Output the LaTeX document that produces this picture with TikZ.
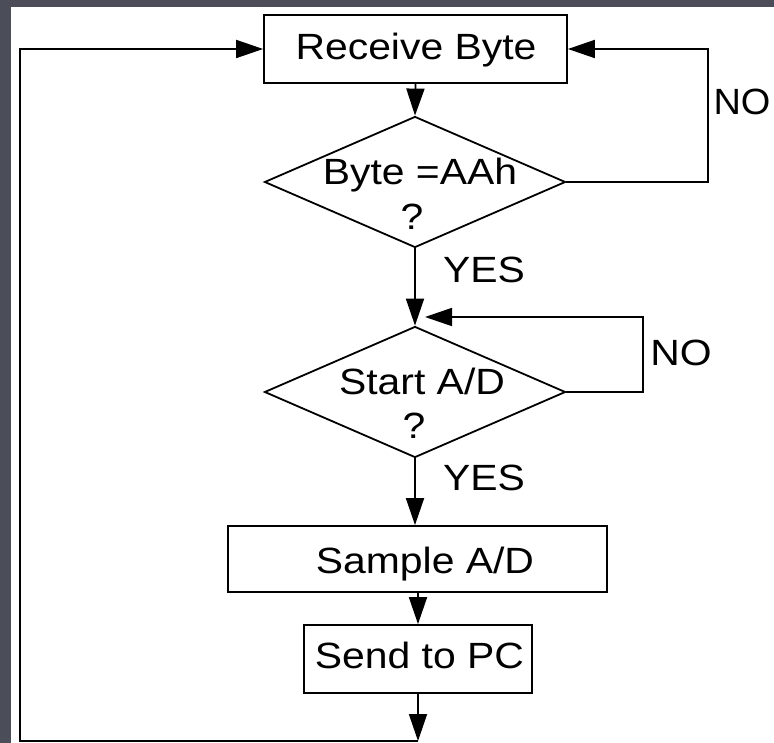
\documentclass[tikz,border=0pt]{standalone}
\usepackage{fontspec}
\setmainfont{Liberation Sans}
\usetikzlibrary{shapes.geometric,arrows.meta}
\newcommand\stretchtxt[1]{\scalebox{1.12}[1]{#1}}
\definecolor{frame}{HTML}{4B4D58}
\begin{document}
\begin{tikzpicture}[x=1pt,y=-1pt,
  line width=1.8pt,
  box/.style={draw,rectangle,inner sep=0pt},
  dec/.style={draw,diamond,inner sep=0pt,minimum width=301pt,minimum height=131pt},
  txt/.style={anchor=base,inner sep=0pt,font=\fontsize{36.5}{40}\selectfont},
  arr/.style={-{Triangle[length=27pt,width=18pt]}},
]
% background and frame
\fill[frame] (0,0) rectangle (774,743);
\fill[white] (11,7) rectangle (774,743);
\useasboundingbox (0,0) rectangle (774,743);

% shapes
\node[box,minimum width=303pt,minimum height=68pt] (recv) at (415.5,49) {};
\node[dec] (d1) at (415,182) {};
\node[dec] (d2) at (415,392) {};
\node[box,minimum width=379pt,minimum height=66pt] (samp) at (417.5,559) {};
\node[box,minimum width=228pt,minimum height=68pt] (send) at (418,659) {};

% texts
\node[txt] (trecv) at (416,60) {\stretchtxt{Receive Byte}};
\node[txt] (td1a) at (420,185) {\stretchtxt{Byte =AAh}};
\node[txt] (td1b) at (412,230) {\stretchtxt{?}};
\node[txt] (td2a) at (422,395) {\stretchtxt{Start A/D}};
\node[txt] (td2b) at (414,438) {\stretchtxt{?}};
\node[txt] (tsamp) at (425,573) {\stretchtxt{Sample A/D}};
\node[txt] (tsend) at (419.5,668) {\stretchtxt{Send to PC}};
\node[txt] (yes1) at (484,283) {\stretchtxt{YES}};
\node[txt] (yes2) at (484,490) {\stretchtxt{YES}};
\node[txt] (no1) at (742,115) {\scalebox{1.04}[1]{NO}};
\node[txt] (no2) at (681,366) {\stretchtxt{NO}};

% helper coordinates
\coordinate (cb) at (418,741);
\coordinate (cbl) at (20,741);
\coordinate (ctl) at (20,49);
\coordinate (cr1) at (708,182);
\coordinate (cr2) at (643,392);
\coordinate (c2tip) at (425,317);

% connectors
\draw[arr] (recv.south) -- (d1.north);
\draw[arr] (d1.south) -- (d2.north);
\draw[arr] (d2.south) -- (d2.south |- samp.north);
\draw[arr] (samp.south -| send.north) -- (send.north);
\draw[arr] (send.south) -- (cb);
\draw[arr] (cb) -- (cbl) -- (ctl) -- (recv.west);
\draw[arr] (d1.east) -- (cr1) |- (recv.east);
\draw[arr] (d2.east) -- (cr2) |- (c2tip);
\end{tikzpicture}
\end{document}
